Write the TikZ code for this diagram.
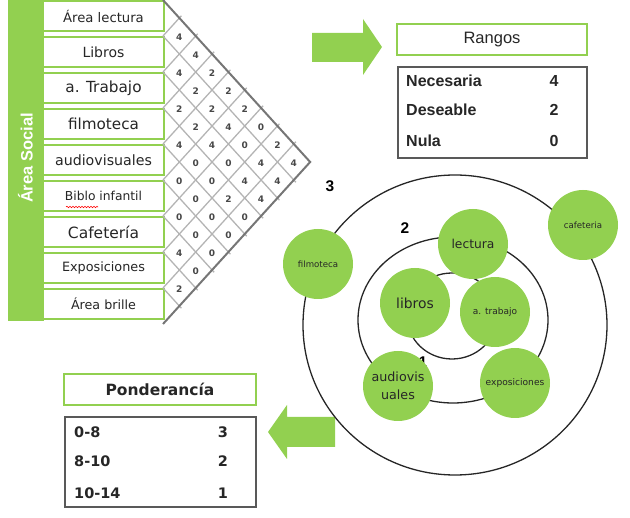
\documentclass[tikz,border=0pt]{standalone}
\usepackage{fontspec}
\setmainfont{Liberation Sans}
\newfontfamily\dvs{DejaVu Sans}
\usetikzlibrary{decorations.pathmorphing}
\definecolor{lgreen}{RGB}{146,208,80}
\definecolor{txt}{RGB}{38,38,38}
\definecolor{gridl}{RGB}{180,180,180}
\definecolor{gridd}{RGB}{118,118,118}
\definecolor{tabl}{RGB}{89,89,89}
\newcommand{\myfs}[1]{\fontsize{#1}{#1}\selectfont}
\begin{document}
\begin{tikzpicture}[x=1pt,y=-1pt,
  rowlbl/.style={draw=lgreen, line width=1.3pt, fill=white, minimum width=121pt, minimum height=30pt, inner sep=0pt, text=txt},
  cellnum/.style={font=\dvs\bfseries\myfs{9}, text=txt!85, inner sep=0pt},
  ttlbox/.style={draw=lgreen, line width=2pt, minimum height=31pt, inner sep=0pt, text=txt},
  tabbox/.style={draw=tabl, line width=1.5pt, inner sep=0pt},
  tabtxt/.style={text=txt, inner sep=0pt},
  ring/.style={draw=black!85, line width=1.3pt},
  bubble/.style={circle, fill=lgreen, minimum size=70pt, inner sep=0pt, text=txt, align=center},
  lvl/.style={font=\bfseries\myfs{15.5}, inner sep=0pt},
]
\useasboundingbox (0,0) rectangle (630,518);

% green side bar
\fill[lgreen] (8,0) rectangle (44,321);
\node[rotate=90, font=\bfseries\myfs{16.5}, text=white] (soc) at (25.5,158) {Área Social};

% row labels
\foreach \t/\s [count=\i from 0] in {Área lectura/13.2, Libros/14, a. Trabajo/15.3, filmoteca/15.2, audiovisuales/14.2, Biblo infantil/12.3, Cafetería/15.5, Exposiciones/12.8, Área brille/12.7}
  \node[rowlbl, font=\dvs\myfs{\s}] (r\i) at (103.5, 36*\i+16) {\t};

\draw[red, line width=0.6pt, decorate, decoration={snake, amplitude=0.7pt, segment length=3pt}] (66,207) -- (98,207);

% matrix grid
\foreach \k in {1,...,8} {
  \draw[gridl, line width=1.3pt, shorten >=-3pt] (163, 36*\k) -- ({163+16.35*(9-\k)}, {162+18*\k});
  \draw[gridl, line width=1.3pt, shorten >=-3pt] (163, 36*\k) -- ({163+16.35*\k}, {18*\k});
}
\draw[gridd, line width=2pt] (163,0) -- (310.15,162) -- (163,324);

% matrix values
\foreach \k/\vals in {1/{4,4,2,4,0,0,4,2}, 2/{4,2,2,0,0,0,0}, 3/{2,2,4,0,0,0}, 4/{2,4,0,2,0}, 5/{2,0,4,0}, 6/{0,4,4}, 7/{2,4}, 8/{4}} {
  \foreach \v [count=\m from 0] in \vals {
    \node[cellnum] (c\k-\m) at ({163+16.35*\k}, {19+36*\m+18*\k}) {\v};
  }
}

% block arrows
\fill[lgreen] (312,33) -- (363,33) -- (363,19) -- (382,47) -- (363,75) -- (363,62) -- (312,62) -- cycle;
\fill[lgreen] (335,417) -- (287,417) -- (287,405) -- (268,432) -- (287,459) -- (287,447) -- (335,447) -- cycle;

% Rangos legend
\node[ttlbox, minimum width=190pt, font=\myfs{16.5}] (rang) at (492,39.5) {Rangos};
\node[tabbox, minimum width=189pt, minimum height=91pt] (rtab) at (492.5,112.5) {};
\node[tabtxt, anchor=west, font=\bfseries\myfs{16}] (ra1) at (406,81) {Necesaria};
\node[tabtxt, anchor=west, font=\bfseries\myfs{16}] (ra2) at (406,110) {Deseable};
\node[tabtxt, anchor=west, font=\bfseries\myfs{16}] (ra3) at (406,141) {Nula};
\node[tabtxt, font=\bfseries\myfs{16}] (rv1) at (554,81) {4};
\node[tabtxt, font=\bfseries\myfs{16}] (rv2) at (554,110) {2};
\node[tabtxt, font=\bfseries\myfs{16}] (rv3) at (554,141) {0};

% Ponderancia legend
\node[ttlbox, minimum width=192pt, font=\dvs\bfseries\myfs{15.5}] (pond) at (160,389.5) {Ponderancía};
\node[tabbox, minimum width=191pt, minimum height=90pt] (ptab) at (160.5,462) {};
\node[tabtxt, anchor=west, font=\dvs\bfseries\myfs{14.5}] (pa1) at (74,432) {0-8};
\node[tabtxt, anchor=west, font=\dvs\bfseries\myfs{14.5}] (pa2) at (74,461) {8-10};
\node[tabtxt, anchor=west, font=\dvs\bfseries\myfs{14.5}] (pa3) at (74,493) {10-14};
\node[tabtxt, font=\dvs\bfseries\myfs{14.5}] (pv1) at (223,432) {3};
\node[tabtxt, font=\dvs\bfseries\myfs{14.5}] (pv2) at (223,461) {2};
\node[tabtxt, font=\dvs\bfseries\myfs{14.5}] (pv3) at (223,493) {1};

% rings
\draw[ring] (455,325) ellipse [x radius=152pt, y radius=150pt];
\draw[ring] (453,320) ellipse [x radius=95pt, y radius=83pt];
\draw[ring] (452,316) ellipse [x radius=45pt, y radius=43pt];
\node[lvl] (l3) at (330,186) {3};
\node[lvl] (l2) at (405,228) {2};
\node[lvl] (l1) at (423,362) {1};

% bubbles
\node[bubble, font=\dvs\myfs{8.6}] (bfilm) at (318,264) {filmoteca};
\node[bubble, font=\dvs\myfs{12.3}] (blect) at (473,244) {lectura};
\node[bubble, font=\dvs\myfs{8.6}] (bcaf) at (583,225) {cafeteria};
\node[bubble, font=\dvs\myfs{13.9}] (blib) at (415,303) {libros};
\node[bubble, font=\dvs\myfs{9}] (btrab) at (495,312) {a. trabajo};
\node[bubble, font=\dvs\fontsize{12.7}{18}\selectfont] (baud) at (398,386) {audiovis\\uales};
\node[bubble, font=\dvs\myfs{9.1}] (bexp) at (515,383) {exposiciones};
\end{tikzpicture}
\end{document}
